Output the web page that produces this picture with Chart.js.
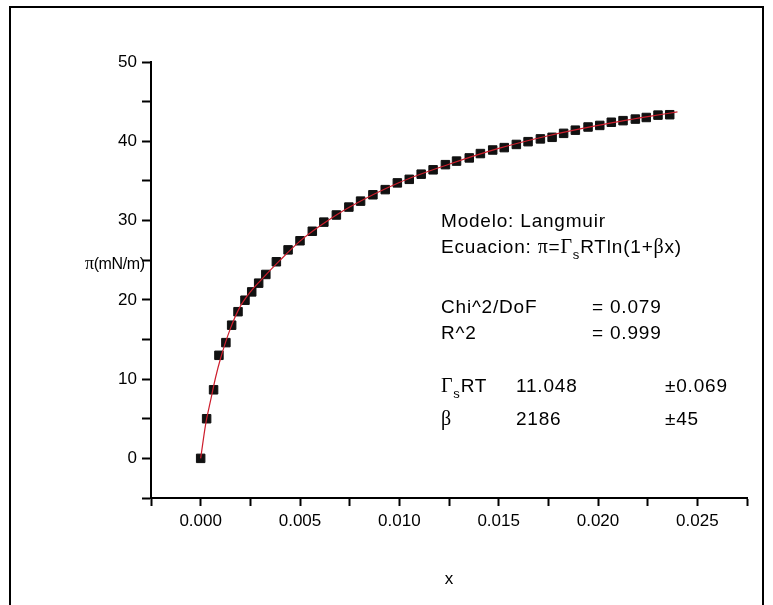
<!DOCTYPE html>
<html>
<head>
<meta charset="utf-8">
<script src="https://cdn.jsdelivr.net/npm/chart.js@4"></script>
<style>
  body { margin: 0; background: #fff; }
  canvas { display: block; }
</style>
</head>
<body>
<canvas id="myChart" width="773" height="605"></canvas>
<script>
// measured points (x, pi in mN/m)
var xData = [0, 0.0003, 0.00065, 0.00092, 0.00127, 0.00156, 0.00188, 0.00223, 0.00257, 0.00292,
  0.00328, 0.00381, 0.0044, 0.005, 0.00562, 0.0062, 0.00683, 0.00746, 0.00805, 0.00867,
  0.00929, 0.0099, 0.0105, 0.0111, 0.0117, 0.01232, 0.01288, 0.01352, 0.01408, 0.0147,
  0.01528, 0.01589, 0.01648, 0.0171, 0.01769, 0.01827, 0.01886, 0.0195, 0.02009, 0.02067,
  0.02126, 0.02188, 0.02243, 0.02302, 0.02361];
var piData = [0, 5.0, 8.65, 13.0, 14.6, 16.8, 18.5, 19.95, 21.0, 22.1,
  23.2, 24.8, 26.3, 27.45, 28.65, 29.8, 30.7, 31.7, 32.45, 33.25,
  33.9, 34.75, 35.2, 35.85, 36.4, 37.05, 37.5, 37.9, 38.45, 38.9,
  39.2, 39.6, 39.95, 40.3, 40.5, 41.0, 41.4, 41.8, 42.0, 42.4,
  42.6, 42.8, 43.0, 43.3, 43.35];

// fitted Langmuir curve
var fitX = [0, 0.00025, 0.0005, 0.00075, 0.001, 0.0015, 0.002, 0.0025, 0.003, 0.004,
  0.005, 0.006, 0.0075, 0.01, 0.0125, 0.015, 0.0175, 0.02, 0.0225, 0.024];
var fitY = [0, 4.3, 7.3, 10.2, 12.6, 16.4, 19.2, 21.0, 22.4, 25.0,
  27.4, 29.3, 31.7, 34.8, 37.1, 39.1, 40.7, 42.0, 43.1, 43.7];

var sans = '"Liberation Sans", Arial, sans-serif';
var serif = '"Liberation Serif", "Times New Roman", serif';
Chart.defaults.font.family = sans;
Chart.defaults.color = '#000';

function pts(xs, ys) {
  return xs.map(function (x, i) { return { x: x, y: ys[i] }; });
}

// draw a line of text made of pieces (sans / greek serif / subscript)
function rich(ctx, x, y, segs) {
  segs.forEach(function (s) {
    var dy = 0;
    if (s[1] === 'g') ctx.font = '20px ' + serif;
    else if (s[1] === 'sub') { ctx.font = '13px ' + sans; dy = 6; }
    else ctx.font = '19px ' + sans;
    ctx.fillText(s[0], x, y + dy);
    x += ctx.measureText(s[0]).width;
  });
}

var textPlugin = {
  id: 'texts',
  afterDraw: function (chart) {
    var ctx = chart.ctx;
    ctx.save();
    // outer frame
    ctx.strokeStyle = '#000';
    ctx.lineWidth = 2;
    ctx.strokeRect(10, 7, 753, 610);

    ctx.fillStyle = '#000';
    ctx.textAlign = 'left';
    ctx.textBaseline = 'alphabetic';

    // y axis title (horizontal)
    ctx.letterSpacing = '-0.4px';
    ctx.font = '18px ' + serif;
    ctx.fillText('\u03c0', 85, 269);
    var w = ctx.measureText('\u03c0').width;
    ctx.font = '16px ' + sans;
    ctx.fillText('(mN/m)', 85 + w, 269);

    ctx.letterSpacing = '0.8px';
    rich(ctx, 441, 227, [['Modelo: Langmuir']]);
    rich(ctx, 441, 253, [['Ecuacion: '], ['\u03c0', 'g'], ['='], ['\u0393', 'g'], ['s', 'sub'], ['RTln(1+'], ['\u03b2', 'g'], ['x)']]);
    rich(ctx, 441, 313, [['Chi^2/DoF']]);
    rich(ctx, 592, 313, [['= 0.079']]);
    rich(ctx, 441, 339, [['R^2']]);
    rich(ctx, 592, 339, [['= 0.999']]);
    rich(ctx, 441, 392, [['\u0393', 'g'], ['s', 'sub'], ['RT']]);
    rich(ctx, 516, 392, [['11.048']]);
    rich(ctx, 665, 392, [['\u00b10.069']]);
    rich(ctx, 441, 425, [['\u03b2', 'g']]);
    rich(ctx, 516, 425, [['2186']]);
    rich(ctx, 665, 425, [['\u00b145']]);
    ctx.restore();
  }
};

var ctx = document.getElementById('myChart').getContext('2d');
var chart = new Chart(ctx, {
  type: 'scatter',
  data: {
    datasets: [{
      label: 'Langmuir',
      data: pts(fitX, fitY),
      showLine: true,
      borderColor: 'rgb(205, 30, 45)',
      borderWidth: 1.2,
      pointRadius: 0,
      cubicInterpolationMode: 'monotone',
      order: 0
    }, {
      label: 'datos',
      data: pts(xData, piData),
      pointStyle: 'rect',
      pointRadius: 6,
      backgroundColor: '#111',
      borderColor: '#111',
      borderWidth: 1,
      order: 1
    }]
  },
  options: {
    responsive: false,
    animation: false,
    layout: { padding: { left: 0, top: 62, right: 26, bottom: 0 } },
    plugins: { legend: { display: false }, tooltip: { enabled: false } },
    scales: {
      x: {
        type: 'linear',
        min: -0.0025,
        max: 0.0275,
        afterFit: function (s) { s.height = 107; },
        border: { color: '#000', width: 2 },
        grid: { drawOnChartArea: false, tickLength: 8, tickColor: '#000', tickWidth: 2 },
        ticks: {
          stepSize: 0.0025,
          maxRotation: 0,
          autoSkip: false,
          padding: 5,
          font: { size: 17 },
          callback: function (v) {
            var k = Math.round(v / 0.0025);
            return (k % 2 === 0) ? (k * 0.0025).toFixed(3) : '';
          }
        },
        title: { display: true, text: 'x', font: { size: 17 }, padding: { top: 0, bottom: 15 } }
      },
      y: {
        min: -5,
        max: 50,
        afterFit: function (s) { s.width = 151; },
        border: { color: '#000', width: 2 },
        grid: { drawOnChartArea: false, tickLength: 9, tickColor: '#000', tickWidth: 2 },
        ticks: {
          stepSize: 5,
          autoSkip: false,
          padding: 5,
          font: { size: 17 },
          callback: function (v) {
            var k = Math.round(v / 5);
            return (k % 2 === 0 && k >= 0) ? String(k * 5) : '';
          }
        }
      }
    }
  },
  plugins: [textPlugin]
});
</script>
</body>
</html>
